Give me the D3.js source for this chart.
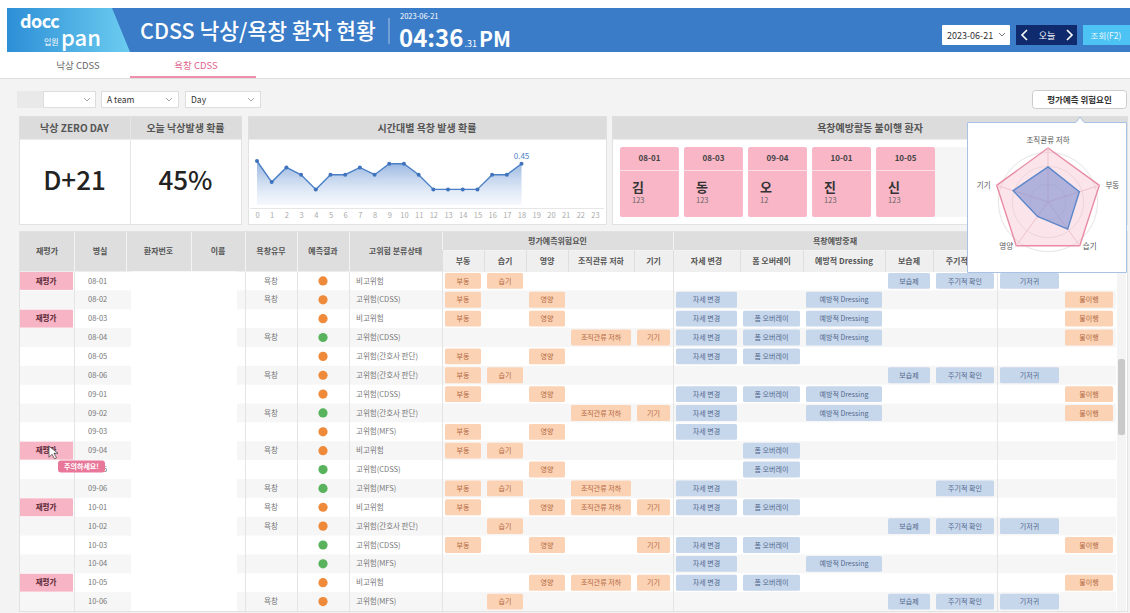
<!DOCTYPE html>
<html><head><meta charset="utf-8">
<script src="https://cdn.jsdelivr.net/npm/d3@7"></script>
<style>
html,body{margin:0;padding:0;background:#fff;}
svg{display:block;font-family:"Noto Sans CJK KR","Noto Sans",sans-serif;}
</style></head>
<body>
<svg id="c" width="1130" height="613"></svg>
<script>
// ---------------- DATA ----------------
const hourTicks = [0,1,2,3,4,5,6,7,8,9,10,11,12,13,14,15,16,17,18,19,20,21,22,23];
const probHours = [0,1,2,3,4,5,6,7,8,9,10,11,12,13,14,15,16,17,18];
const probValues = [0.48,0.25,0.41,0.33,0.17,0.33,0.33,0.41,0.33,0.45,0.45,0.33,0.17,0.17,0.17,0.17,0.33,0.33,0.45];

const radarAxes = ["조직관류 저하","부동","습기","영양","기기"];
const radarLimit = [1,1,1,1,1];
const radarValues = [0.65,0.61,0.62,0.33,0.68];

const missedRooms = ["08-01","08-03","09-04","10-01","10-05"];
const missedNames = ["김","동","오","진","신"];
const missedIds = ["123","123","12","123","123"];

const kpiLabels = ["낙상 ZERO DAY","오늘 낙상발생 확률"];
const kpiValues = ["D+21","45%"];

const rooms = ["08-01","08-02","08-03","08-04","08-05","08-06","09-01","09-02","09-03","09-04","09-05","09-06","10-01","10-02","10-03","10-04","10-05","10-06"];
const reeval = [1,0,1,0,0,0,0,0,0,1,0,0,1,0,0,0,1,0];
const hasUlcer = [1,1,0,1,0,1,0,1,0,1,0,1,1,1,0,0,0,1];
const prediction = ["위험","위험","위험","정상","위험","위험","위험","정상","위험","위험","정상","정상","위험","위험","정상","정상","위험","위험"];
const statuses = ["비고위험","고위험(CDSS)","비고위험","고위험(CDSS)","고위험(간호사 판단)","고위험(간호사 판단)","고위험(CDSS)","고위험(간호사 판단)","고위험(MFS)","비고위험","고위험(CDSS)","고위험(MFS)","비고위험","고위험(간호사 판단)","고위험(CDSS)","고위험(MFS)","비고위험","고위험(MFS)"];
const riskFactors = [
  ["부동","습기"],["부동","영양"],["부동","영양"],["조직관류 저하","기기"],["부동","영양"],["부동","습기"],
  ["부동","영양"],["조직관류 저하","기기"],["부동","영양"],["부동","습기"],["영양"],["부동","습기","조직관류 저하"],
  ["부동","영양","조직관류 저하","기기"],["습기"],["부동","영양","기기"],[],["영양","조직관류 저하","기기"],["습기"]];
const careActions = [
  ["보습제","주기적 확인","기저귀"],["자세 변경","예방적 Dressing"],["자세 변경","폼 오버레이","예방적 Dressing"],
  ["자세 변경","폼 오버레이","예방적 Dressing"],["자세 변경","폼 오버레이"],["보습제","주기적 확인","기저귀"],
  ["자세 변경","폼 오버레이","예방적 Dressing"],["자세 변경","예방적 Dressing"],["자세 변경"],["폼 오버레이"],["폼 오버레이"],
  ["자세 변경","주기적 확인"],["자세 변경","폼 오버레이"],["보습제","주기적 확인","기저귀"],["자세 변경","폼 오버레이"],
  ["자세 변경","예방적 Dressing"],["자세 변경","폼 오버레이"],["보습제","주기적 확인","기저귀"]];
const missed = [0,1,1,1,0,0,1,1,0,0,0,0,0,0,1,0,1,0];

const leftHeaders = ["재평가","병실","환자번호","이름","욕창유무","예측결과","고위험 분류상태"];
const riskHeaders = ["부동","습기","영양","조직관류 저하","기기"];
const careHeaders = ["자세 변경","폼 오버레이","예방적 Dressing","보습제","주기적 확인","기저귀"];
const lastHeader = "불이행";

// ---------------- DRAW ----------------
const svg = d3.select("#c");
const F = '"Noto Sans CJK KR","Noto Sans",sans-serif';
const defs = svg.append("defs");
const POPUP_X = 967;

// background
svg.append("rect").attr("x",0).attr("y",0).attr("width",1130).attr("height",613).attr("fill","#fff");
svg.append("rect").attr("x",0).attr("y",79).attr("width",1130).attr("height",534).attr("fill","#f3f3f3");

// header bar
svg.append("rect").attr("x",7).attr("y",8).attr("width",1123).attr("height",44).attr("fill","#3a7cc7");
const lg = defs.append("linearGradient").attr("id","logoG").attr("x1","0").attr("x2","1").attr("y1","0").attr("y2","0");
lg.append("stop").attr("offset","0").attr("stop-color","#2d8fd6");
lg.append("stop").attr("offset","1").attr("stop-color","#6cccf0");
svg.append("polygon").attr("points","7,8 112,8 130,52 7,52").attr("fill","url(#logoG)");
svg.append("text").attr("x",20).attr("y",28).attr("fill","#fff").attr("font-size",18).attr("font-weight",700).attr("letter-spacing",-0.5).text("docc");
svg.append("text").attr("x",44).attr("y",45).attr("fill","#fff").attr("font-size",8).text("입원");
svg.append("text").attr("x",61).attr("y",46).attr("fill","#fff").attr("font-size",22).attr("font-weight",500).text("pan");
svg.append("text").attr("x",140).attr("y",39).attr("fill","#fff").attr("font-size",21.5).attr("font-weight",500).text("CDSS 낙상/욕창 환자 현황");
svg.append("line").attr("x1",389).attr("x2",389).attr("y1",18).attr("y2",44).attr("stroke","#fff").attr("stroke-opacity",0.55);
svg.append("text").attr("x",400).attr("y",19).attr("fill","#fff").attr("font-size",7.5).text("2023-06-21");
const tt = svg.append("text").attr("x",399).attr("y",47).attr("fill","#fff").attr("font-weight",600);
tt.append("tspan").attr("font-size",24).text("04:36");
tt.append("tspan").attr("font-size",9).attr("font-weight",400).attr("dx",1).text(".31");
tt.append("tspan").attr("font-size",21).attr("dx",2).text("PM");

// right controls
svg.append("rect").attr("x",942).attr("y",25).attr("width",68).attr("height",20).attr("fill","#fff").attr("rx",1);
svg.append("text").attr("x",947).attr("y",39).attr("font-size",9).attr("fill","#333").text("2023-06-21");
svg.append("path").attr("d","M999,33 l3,3 l3,-3").attr("fill","none").attr("stroke","#777").attr("stroke-width",1);
svg.append("rect").attr("x",1016).attr("y",25).attr("width",61).attr("height",20).attr("fill","#0f2b6e");
svg.append("path").attr("d","M1027,30 l-5,5 l5,5").attr("fill","none").attr("stroke","#fff").attr("stroke-width",1.6);
svg.append("path").attr("d","M1067,30 l5,5 l-5,5").attr("fill","none").attr("stroke","#fff").attr("stroke-width",1.6);
svg.append("text").attr("x",1047).attr("y",39).attr("text-anchor","middle").attr("font-size",9).attr("fill","#fff").text("오늘");
svg.append("rect").attr("x",1083).attr("y",25).attr("width",47).attr("height",20).attr("fill","#4cc3f2");
svg.append("text").attr("x",1106).attr("y",39).attr("text-anchor","middle").attr("font-size",8.5).attr("fill","#e8f7ff").text("조회(F2)");

// tabs
svg.append("line").attr("x1",0).attr("x2",1130).attr("y1",78.5).attr("y2",78.5).attr("stroke","#dedede");
svg.append("text").attr("x",78).attr("y",69).attr("text-anchor","middle").attr("font-size",9.5).attr("fill","#666").text("낙상 CDSS");
svg.append("text").attr("x",196).attr("y",69).attr("text-anchor","middle").attr("font-size",9.5).attr("fill","#e0608c").text("욕창 CDSS");
svg.append("rect").attr("x",130).attr("y",76).attr("width",126).attr("height",2).attr("fill","#ef8fac");

// filter selects
function chevron(x,y){svg.append("path").attr("d",`M${x},${y} l3,3 l3,-3`).attr("fill","none").attr("stroke","#aaa").attr("stroke-width",1);}
svg.append("rect").attr("x",17).attr("y",91).attr("width",26).attr("height",17).attr("fill","#e9e9e9");
svg.append("rect").attr("x",43.5).attr("y",91.5).attr("width",52).attr("height",16).attr("fill","#fff").attr("stroke","#ddd");
chevron(84,98);
svg.append("rect").attr("x",101.5).attr("y",91.5).attr("width",77).attr("height",16).attr("fill","#fff").attr("stroke","#ddd");
svg.append("text").attr("x",107).attr("y",103).attr("font-size",8.5).attr("fill","#333").text("A team");
chevron(166,98);
svg.append("rect").attr("x",185.5).attr("y",91.5).attr("width",75).attr("height",16).attr("fill","#fff").attr("stroke","#ddd");
svg.append("text").attr("x",191).attr("y",103).attr("font-size",8.5).attr("fill","#333").text("Day");
chevron(248,98);

// panel helper
function panel(x,w,title,cx){
  svg.append("rect").attr("x",x+0.5).attr("y",116.5).attr("width",w).attr("height",108).attr("fill","#fff").attr("stroke","#e2e2e2");
  svg.append("rect").attr("x",x+0.5).attr("y",116.5).attr("width",w).attr("height",23).attr("fill","#dcdcdc");
  if(title) svg.append("text").attr("x",cx).attr("y",132).attr("text-anchor","middle").attr("font-size",10).attr("font-weight",700).attr("fill","#555").text(title);
}
// KPI panel
panel(19,222,null);
svg.append("line").attr("x1",130.5).attr("x2",130.5).attr("y1",117).attr("y2",224).attr("stroke","#e6e6e6");
const kx = d3.scaleBand().domain(kpiLabels).range([19,241]);
kpiLabels.forEach((l,i)=>{
  const cx = kx(l)+kx.bandwidth()/2;
  svg.append("text").attr("x",cx).attr("y",132).attr("text-anchor","middle").attr("font-size",10).attr("font-weight",700).attr("fill","#555").text(l);
  svg.append("text").attr("x",cx).attr("y",190).attr("text-anchor","middle").attr("font-size",26).attr("font-weight",500).attr("fill","#222").text(kpiValues[i]);
});

// line chart panel
panel(248,358,"시간대별 욕창 발생 확률",427);
const x = d3.scaleLinear().domain([0,23]).range([257,595]);
const y = d3.scaleLinear().domain([0,0.6]).range([205,150]);
const ag = defs.append("linearGradient").attr("id","areaG").attr("x1","0").attr("x2","0").attr("y1","0").attr("y2","1");
ag.append("stop").attr("offset","0").attr("stop-color","#86a9db").attr("stop-opacity",0.9);
ag.append("stop").attr("offset","1").attr("stop-color","#e6eef8").attr("stop-opacity",0.4);
const pts = probHours.map((h,i)=>[h,probValues[i]]);
svg.append("path").datum(pts).attr("fill","url(#areaG)")
  .attr("d",d3.area().x(d=>x(d[0])).y0(y(0)).y1(d=>y(d[1])));
svg.append("path").datum(pts).attr("fill","none").attr("stroke","#4a7fc6").attr("stroke-width",1.4)
  .attr("d",d3.line().x(d=>x(d[0])).y(d=>y(d[1])));
svg.selectAll(".dot").data(pts).join("circle").attr("cx",d=>x(d[0])).attr("cy",d=>y(d[1])).attr("r",2).attr("fill","#3f73bd");
const last = pts[pts.length-1];
svg.append("text").attr("x",x(last[0])).attr("y",y(last[1])-5).attr("text-anchor","middle").attr("font-size",8).attr("fill","#4a7fc6").text(last[1].toFixed(2));
svg.append("line").attr("x1",250).attr("x2",604).attr("y1",208.5).attr("y2",208.5).attr("stroke","#e6e6e6");
const ax = svg.append("g").attr("transform","translate(0,209)")
  .call(d3.axisBottom(x).tickValues(hourTicks).tickSize(0).tickPadding(4).tickFormat(d=>d));
ax.select(".domain").remove();
ax.selectAll("text").attr("font-size",7.5).attr("fill","#aaa").attr("font-family",F);

// missed patients panel
panel(612,515,"욕창예방활동 불이행 환자",870);
svg.append("rect").attr("x",935).attr("y",147).attr("width",185).attr("height",70).attr("fill","#f5f5f5");
const cardX = d3.scaleBand().domain(missedRooms).range([620,935]).paddingInner(0.08).paddingOuter(0);
missedRooms.forEach((r,i)=>{
  const cx0 = cardX(r), cw = cardX.bandwidth();
  svg.append("rect").attr("x",cx0).attr("y",147).attr("width",cw).attr("height",70).attr("rx",2).attr("fill","#f8b6c7");
  svg.append("line").attr("x1",cx0).attr("x2",cx0+cw).attr("y1",170.5).attr("y2",170.5).attr("stroke","#fde0e7").attr("stroke-width",1);
  svg.append("text").attr("x",cx0+cw/2).attr("y",161).attr("text-anchor","middle").attr("font-size",8).attr("font-weight",700).attr("fill","#444").text(r);
  svg.append("text").attr("x",cx0+12).attr("y",192).attr("font-size",13).attr("font-weight",700).attr("fill","#333").text(missedNames[i]);
  svg.append("text").attr("x",cx0+12).attr("y",203).attr("font-size",7.5).attr("fill","#666").text(missedIds[i]);
});

// ---------------- TABLE ----------------
const T0 = 231, H1 = 250, HB = 271.5, TB = 611;
svg.append("rect").attr("x",19.5).attr("y",T0+0.5).attr("width",1108).attr("height",TB-T0).attr("fill","#fff").attr("stroke","#e2e2e2");
const leftEdges = [20,74,126,191,245,297,349,442];
const riskEdges = [442,484,526,568,634,673];
const careEdges = [673,740,803,885,933,997,1062];
const lastEdges = [1062,1116];
const rowY = d3.scaleBand().domain(rooms).range([HB,TB]);
const bw = rowY.bandwidth();
const riskX = d3.scaleOrdinal().domain(riskHeaders).range(riskEdges.slice(0,-1));
const riskW = d3.scaleOrdinal().domain(riskHeaders).range(riskEdges.slice(1).map((e,i)=>e-riskEdges[i]));
const careX = d3.scaleOrdinal().domain(careHeaders).range(careEdges.slice(0,-1));
const careW = d3.scaleOrdinal().domain(careHeaders).range(careEdges.slice(1).map((e,i)=>e-careEdges[i]));

// header backgrounds
svg.append("rect").attr("x",20).attr("y",T0+1).attr("width",1096).attr("height",HB-T0-1).attr("fill","#dedede");
svg.append("rect").attr("x",442).attr("y",H1).attr("width",555).attr("height",HB-H1).attr("fill","#efefef");
const hdr = (t,cx,cy)=>{ if(cx > POPUP_X+20) return; svg.append("text").attr("x",cx).attr("y",cy).attr("text-anchor","middle").attr("font-size",8).attr("font-weight",700).attr("fill","#555").text(t); };
leftHeaders.forEach((h,i)=>{
  hdr(h,(leftEdges[i]+leftEdges[i+1])/2,254);
  if(i>0) svg.append("line").attr("x1",leftEdges[i]+0.5).attr("x2",leftEdges[i]+0.5).attr("y1",T0+1).attr("y2",HB).attr("stroke","#f4f4f4");
});
hdr("평가예측위험요인",(442+673)/2,244);
hdr("욕창예방중재",(673+997)/2,244);
[442,673,997].forEach(e=>svg.append("line").attr("x1",e+0.5).attr("x2",e+0.5).attr("y1",T0+1).attr("y2",HB).attr("stroke","#f4f4f4"));
svg.append("line").attr("x1",442).attr("x2",1116).attr("y1",H1+0.5).attr("y2",H1+0.5).attr("stroke","#f4f4f4");
riskHeaders.forEach(h=>{
  hdr(h,riskX(h)+riskW(h)/2,264);
  svg.append("line").attr("x1",riskX(h)+0.5).attr("x2",riskX(h)+0.5).attr("y1",H1).attr("y2",HB).attr("stroke","#dedede");
});
careHeaders.forEach(h=>{
  hdr(h,careX(h)+careW(h)/2,264);
  svg.append("line").attr("x1",careX(h)+0.5).attr("x2",careX(h)+0.5).attr("y1",H1).attr("y2",HB).attr("stroke","#dedede");
});
hdr(lastHeader,(lastEdges[0]+lastEdges[1])/2,264);

// rows
rooms.forEach((r,i)=>{
  const ry = rowY(r);
  if(i%2===1) svg.append("rect").attr("x",20).attr("y",ry).attr("width",1096).attr("height",bw).attr("fill","#f6f6f6");
});
// masked patient info
svg.append("rect").attr("x",131).attr("y",HB).attr("width",106).attr("height",TB-HB).attr("fill","#fff");
[74,245,297,349,442,673,997].forEach(e=>svg.append("line").attr("x1",e+0.5).attr("x2",e+0.5).attr("y1",HB).attr("y2",TB).attr("stroke","#e4e4e4"));

const txt = (t,xx,yy,anchor)=>svg.append("text").attr("x",xx).attr("y",yy).attr("text-anchor",anchor||"start").attr("font-size",7.5).attr("fill","#777").text(t);
function badge(x0,w,ry,label,fill,color){
  svg.append("rect").attr("x",x0+3).attr("y",ry+1.5).attr("width",w-6).attr("height",bw-3).attr("rx",1.5).attr("fill",fill);
  svg.append("text").attr("x",x0+w/2).attr("y",ry+bw/2+2.6).attr("text-anchor","middle").attr("font-size",7).attr("fill",color).text(label);
}
const predColor = d3.scaleOrdinal().domain(["위험","정상"]).range(["#ef8a3a","#58b35c"]);
rooms.forEach((r,i)=>{
  const ry = rowY(r), cy = ry+bw/2+2.6;
  if(reeval[i]){
    svg.append("rect").attr("x",20).attr("y",ry+0.5).attr("width",53).attr("height",bw-1).attr("fill","#f7b4c5");
    svg.append("text").attr("x",46).attr("y",cy).attr("text-anchor","middle").attr("font-size",7.5).attr("font-weight",700).attr("fill","#5a2635").text("재평가");
  }
  txt(r,88,cy);
  if(hasUlcer[i]) txt("욕창",271,cy,"middle");
  svg.append("circle").attr("cx",323).attr("cy",ry+bw/2).attr("r",4.6).attr("fill",predColor(prediction[i]));
  txt(statuses[i],356,cy);
  riskFactors[i].forEach(f=>badge(riskX(f),riskW(f),ry,f,"#fbd2b3","#b26a45"));
  careActions[i].forEach(c=>badge(careX(c),careW(c),ry,c,"#c6d6eb","#52698c"));
  if(missed[i]) badge(lastEdges[0],lastEdges[1]-lastEdges[0],ry,"불이행","#fbd2b3","#b26a45");
});

// scrollbar
svg.append("rect").attr("x",1117).attr("y",HB).attr("width",9).attr("height",TB-HB).attr("fill","#f4f4f4");
svg.append("rect").attr("x",1118).attr("y",359).attr("width",7).attr("height",76).attr("rx",2).attr("fill","#c9c9c9");

// tooltip + cursor
const r94 = rowY("09-04");
svg.append("rect").attr("x",58).attr("y",r94+bw+0.5).attr("width",47).attr("height",12).attr("rx",3).attr("fill","#e8779a");
svg.append("text").attr("x",81.5).attr("y",r94+bw+9.3).attr("text-anchor","middle").attr("font-size",7).attr("font-weight",700).attr("fill","#fff").text("주의하세요!");
svg.append("polygon").attr("points",`49,${r94+5} 49,${r94+16} 52,${r94+13} 54.5,${r94+17.5} 56.5,${r94+16.5} 54,${r94+12} 58,${r94+12}`)
  .attr("fill","#fff").attr("stroke","#333").attr("stroke-width",0.7);

// ---------------- RADAR POPUP ----------------
svg.append("rect").attr("x",1032.5).attr("y",90.5).attr("width",94).attr("height",18).attr("rx",3).attr("fill","#fff").attr("stroke","#ccc");
svg.append("text").attr("x",1079.5).attr("y",103).attr("text-anchor","middle").attr("font-size",8.5).attr("font-weight",700).attr("fill","#333").text("평가예측 위험요인");
svg.append("path").attr("d",`M${POPUP_X+0.5},122.5 H1076 L1080,117 L1084,122.5 H1126.5 V272.5 H${POPUP_X+0.5} Z`).attr("fill","#fff").attr("stroke","#a9c1e2");
const rc = [1048,202];
const rr = d3.scaleLinear().domain([0,1]).range([0,54]);
const ang = d3.scaleOrdinal().domain(radarAxes).range(radarAxes.map((a,i)=>-Math.PI/2+i*2*Math.PI/5));
const pt = (a,v)=>[rc[0]+rr(v)*Math.cos(ang(a)), rc[1]+rr(v)*Math.sin(ang(a))];
const rg = svg.append("g");
[0.33,0.66,0.92].forEach(v=>rg.append("circle").attr("cx",rc[0]).attr("cy",rc[1]).attr("r",rr(v)).attr("fill","none").attr("stroke","#e4e4e4"));
rg.append("polygon").attr("points",radarAxes.map((a,i)=>pt(a,radarLimit[i]).join(",")).join(" "))
  .attr("fill","#f6c6d2").attr("fill-opacity",0.45).attr("stroke","#e98ca3").attr("stroke-width",1.4);
radarAxes.forEach(a=>{const p=pt(a,1);rg.append("line").attr("x1",rc[0]).attr("y1",rc[1]).attr("x2",p[0]).attr("y2",p[1]).attr("stroke","#efc1cc");});
rg.append("polygon").attr("points",radarAxes.map((a,i)=>pt(a,radarValues[i]).join(",")).join(" "))
  .attr("fill","#7f8fd0").attr("fill-opacity",0.6).attr("stroke","#5b86c9").attr("stroke-width",1.4);
radarAxes.forEach(a=>{
  const p = pt(a,1);
  const c = Math.cos(ang(a));
  let lx, ly;
  if(Math.abs(c)<0.1){ lx = p[0]; ly = p[1]-5; }
  else { lx = p[0] + Math.sign(c)*(c>0.9||c<-0.9?13:10); ly = p[1]+3; }
  rg.append("text").attr("x",lx).attr("y",ly).attr("text-anchor","middle").attr("font-size",7.5).attr("fill","#555").text(a);
});
</script>
</body></html>
